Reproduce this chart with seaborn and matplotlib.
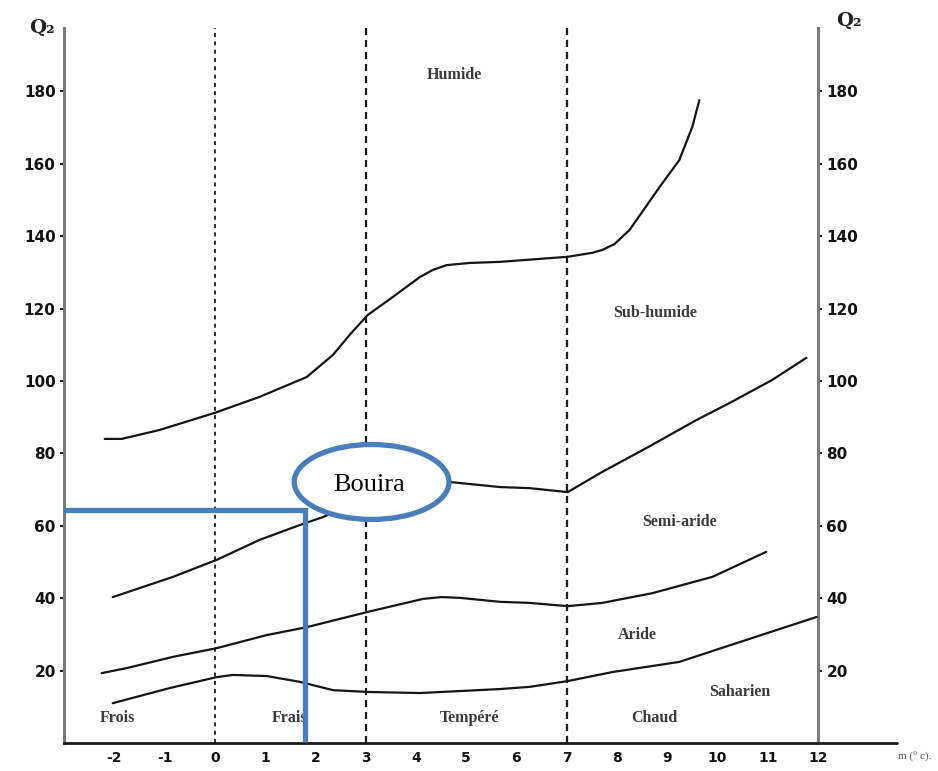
import numpy as np
import pandas as pd
import matplotlib
matplotlib.use("Agg")
import matplotlib.pyplot as plt
from matplotlib.patches import Ellipse
import seaborn as sns

# Emberger climagram: Q2 (pluviothermic quotient) against m (mean minimum of the coldest month, °C)

# Boundary curves between bioclimatic stages
humide_m = [-2.19, -1.85, -1.09, 0.0, 0.89, 1.83, 2.35, 2.70, 3.04, 3.54, 4.08, 4.34, 4.61, 5.07, 5.67, 7.02, 7.51, 7.71, 7.95, 8.25, 8.85, 9.24, 9.50, 9.64]
humide_q = [84.0, 84.0, 86.5, 91.2, 95.6, 101.1, 107.2, 113.0, 118.2, 123.2, 128.7, 130.7, 132.0, 132.6, 132.9, 134.3, 135.4, 136.2, 137.8, 141.7, 153.6, 161.0, 170.2, 177.6]

subhum_m = [-2.03, -0.83, 0.04, 0.89, 1.69, 2.15, 3.0, 4.0, 4.67, 5.67, 6.26, 7.02, 7.71, 8.59, 9.58, 10.24, 11.09, 11.77]
subhum_q = [40.3, 45.9, 50.6, 56.1, 60.2, 62.4, 67.5, 71.0, 72.1, 70.7, 70.4, 69.3, 74.9, 81.5, 89.2, 93.9, 100.3, 106.4]

semiar_m = [-2.25, -1.75, -0.83, 0.04, 1.03, 1.83, 3.04, 3.62, 4.14, 4.50, 4.87, 5.67, 6.26, 7.02, 7.71, 8.71, 9.90, 10.97]
semiar_q = [19.3, 20.7, 23.8, 26.2, 29.8, 32.0, 36.2, 38.1, 39.8, 40.3, 40.1, 39.0, 38.7, 37.8, 38.7, 41.4, 45.9, 52.8]

aride_m = [-2.03, -0.89, 0.04, 0.36, 1.03, 1.69, 2.35, 3.04, 4.08, 5.67, 6.26, 7.02, 7.91, 9.24, 10.58, 11.97]
aride_q = [11.0, 15.2, 18.2, 18.8, 18.5, 16.9, 14.6, 14.1, 13.8, 14.9, 15.5, 17.1, 19.6, 22.4, 28.5, 34.8]

# Thermal variant limits (m, °C)
thermal_limits = [0, 3, 7]

# Axis ticks
x_ticks = list(range(-2, 13))
y_ticks = [20, 40, 60, 80, 100, 120, 140, 160, 180]

# Stage and variant labels with their positions (m, Q2)
stage_names = ["Humide", "Sub-humide", "Semi-aride", "Aride", "Saharien"]
stage_m = [4.77, 8.75, 9.24, 8.41, 10.44]
stage_q = [184.5, 118.8, 61.0, 29.8, 14.1]

variant_names = ["Frois", "Frais", "Tempéré", "Chaud"]
variant_m = [-1.93, 1.49, 5.07, 8.75]
variant_q = 6.9

# Station
station_name = "Bouira"
bouira_m = 1.79
bouira_q2 = 64.4

frames = []
for name, mm, qq in [("humide", humide_m, humide_q),
                     ("subhumide", subhum_m, subhum_q),
                     ("semiaride", semiar_m, semiar_q),
                     ("aride", aride_m, aride_q)]:
    frames.append(pd.DataFrame({"m": mm, "Q2": qq, "limite": name}))
curves = pd.concat(frames, ignore_index=True)

sns.set_theme(style="white")
plt.rcParams["font.family"] = ["DejaVu Sans"]

fig = plt.figure(figsize=(9.38, 7.71), dpi=100)
ax = fig.add_axes([64 / 938, 1 - 743 / 771, 754 / 938, 715 / 771])

sns.lineplot(data=curves, x="m", y="Q2", hue="limite", units="limite",
             estimator=None, sort=False, legend=False,
             palette={k: "#151515" for k in curves["limite"].unique()},
             linewidth=1.6, ax=ax, zorder=3)
for line in ax.get_lines():
    line.set_solid_joinstyle("round")
    line.set_solid_capstyle("round")

for xv in thermal_limits:
    ax.axvline(xv, color="#1a1a1a", linewidth=1.6 if xv else 1.3,
               linestyle=(0, (3.2, 2.2)) if xv else (0, (2.2, 2.4)), zorder=2)

ax.set_xlim(-3, 12)
ax.set_ylim(0, 197.5)
ax.set_xlabel("")
ax.set_ylabel("")

ax.set_xticks(x_ticks)
ax.set_xticklabels([str(t) for t in x_ticks], fontweight="bold", fontsize=10, color="#111111")
ax.set_yticks(y_ticks)
ax.set_yticklabels([str(t) for t in y_ticks], fontweight="bold", fontsize=11, color="#111111")
ax.tick_params(axis="x", direction="in", length=3, width=2, pad=6, colors="#222222")
ax.tick_params(axis="y", direction="out", length=3, width=1.5, pad=3, colors="#222222",
               left=True, right=True, labelleft=True, labelright=True)
for lab in ax.get_yticklabels() + ax.get_xticklabels():
    lab.set_color("#111111")

ax.spines["top"].set_visible(False)
for side in ("left", "right"):
    ax.spines[side].set_color("#7a7a7a")
    ax.spines[side].set_linewidth(2.2)
ax.spines["bottom"].set_color("#1a1a1a")
ax.spines["bottom"].set_linewidth(2.0)
# bottom axis continues past the right scale
ax.axhline(0, xmin=1.0, xmax=1.105, color="#1a1a1a", linewidth=2.0, clip_on=False)

serif = ["Liberation Serif", "DejaVu Serif"]
for name, xm, yq in zip(stage_names, stage_m, stage_q):
    ax.text(xm, yq, name, ha="center", va="center", fontsize=11.5, fontweight="bold",
            family=serif, color="#3a3a3a", zorder=5)
for name, xm in zip(variant_names, variant_m):
    ax.text(xm, variant_q, name, ha="center", va="center", fontsize=11.5, fontweight="bold",
            family=serif, color="#3a3a3a", zorder=5)

fig.text(42 / 938, 1 - 28 / 771, "Q₂", ha="center", va="center", fontsize=14,
         fontweight="bold", family=["DejaVu Serif"], color="#222222")
fig.text(849 / 938, 1 - 21 / 771, "Q₂", ha="center", va="center", fontsize=14,
         fontweight="bold", family=["DejaVu Serif"], color="#222222")
fig.text(915 / 938, 1 - 757 / 771, "m (° c).", ha="center", va="center", fontsize=8,
         family=serif, color="#555555")

# Bouira station: guide lines down to its m and across to its Q2
blue = "#4a7ebb"
ax.plot([ax.get_xlim()[0], bouira_m, bouira_m], [bouira_q2, bouira_q2, 0.3],
        color=blue, linewidth=3.8, solid_joinstyle="miter", solid_capstyle="butt",
        zorder=6, clip_on=False)
ax.add_patch(Ellipse((3.12, 72.1), width=3.08, height=20.7, facecolor="white",
                     edgecolor=blue, linewidth=3.8, zorder=7))
ax.text(3.06, 71.3, station_name, ha="center", va="center", fontsize=19,
        family=serif, color="black", zorder=8)

fig.savefig("out.png", dpi=100, facecolor="white")
